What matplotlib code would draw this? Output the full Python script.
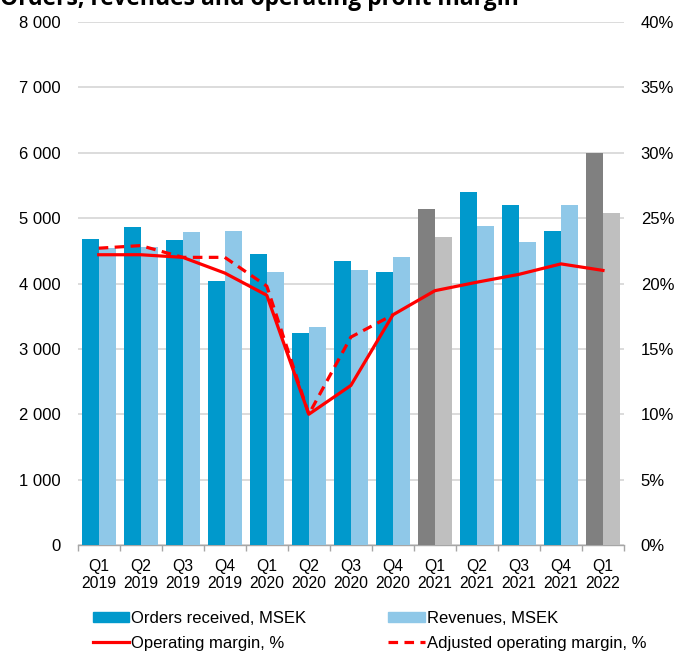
import numpy as np
import matplotlib.pyplot as plt
from matplotlib.ticker import FuncFormatter, FixedLocator
from matplotlib.patches import Patch
from matplotlib.lines import Line2D

plt.rcParams['font.family'] = ['Liberation Sans', 'DejaVu Sans']

# Data
quarters = ['Q1\n2019', 'Q2\n2019', 'Q3\n2019', 'Q4\n2019', 'Q1\n2020', 'Q2\n2020',
            'Q3\n2020', 'Q4\n2020', 'Q1\n2021', 'Q2\n2021', 'Q3\n2021', 'Q4\n2021',
            'Q1\n2022']
orders = [4680, 4865, 4665, 4045, 4445, 3240, 4345, 4175, 5145, 5400, 5200, 4800, 6000]
revenues = [4550, 4555, 4785, 4805, 4175, 3340, 4205, 4410, 4710, 4880, 4630, 5200, 5080]
op_margin = [22.2, 22.2, 22.0, 20.8, 19.1, 10.0, 12.2, 17.6, 19.45, 20.1, 20.7, 21.5, 21.0]
adj_margin = [22.7, 22.9, 22.0, 22.0, 19.8, 10.0, 15.9, 17.6]
highlight = ['Q1\n2021', 'Q1\n2022']

c_orders = '#0099CC'
c_rev = '#8FC8E8'
c_orders_g = '#808080'
c_rev_g = '#BFBFBF'
c_red = '#FF0000'

fig = plt.figure(figsize=(6.78, 6.51), dpi=100)
ax = fig.add_axes([77.7 / 678, 1 - 545 / 651, (624 - 77.7) / 678, (545 - 22) / 651])
ax2 = ax.twinx()

x = np.arange(len(quarters))
w = 0.4
col_o = [c_orders_g if q in highlight else c_orders for q in quarters]
col_r = [c_rev_g if q in highlight else c_rev for q in quarters]
ax.bar(x - w / 2, orders, w, color=col_o, zorder=3)
ax.bar(x + w / 2, revenues, w, color=col_r, zorder=3)

ax.set_ylim(0, 8000)
ax.set_xlim(-0.5, len(quarters) - 0.5)
ax.set_yticks(np.arange(0, 8001, 1000))
ax.yaxis.set_major_formatter(FuncFormatter(lambda v, p: f'{int(v):,}'.replace(',', ' ')))
ax.grid(axis='y', color='#D9D9D9', linewidth=1.3, zorder=0)
ax.set_axisbelow(True)

ax.set_xticks(x)
ax.set_xticklabels(quarters, fontsize=11.3, linespacing=1.15)
ax.xaxis.set_minor_locator(FixedLocator(np.arange(-0.5, len(quarters), 1)))
ax.tick_params(axis='x', which='major', length=0, pad=10)
ax.tick_params(axis='x', which='minor', length=4, color='#A6A6A6', width=1)
ax.tick_params(axis='y', length=0, labelsize=12, pad=12)

for s in ['top', 'right', 'left']:
    ax.spines[s].set_visible(False)
ax.spines['bottom'].set_color('#A6A6A6')
ax.spines['bottom'].set_linewidth(1)

ax2.plot(x, op_margin, color=c_red, linewidth=2.3, zorder=4)
ax2.plot(x[:len(adj_margin)], adj_margin, color=c_red, linewidth=2.3,
         linestyle=(0, (3, 2)), zorder=4)
ax2.set_ylim(0, 40)
ax2.set_yticks(np.arange(0, 41, 5))
ax2.yaxis.set_major_formatter(FuncFormatter(lambda v, p: f'{int(v)}%'))
ax2.tick_params(axis='y', length=0, labelsize=12, pad=12)
for s in ['top', 'right', 'left', 'bottom']:
    ax2.spines[s].set_visible(False)

# title is partly cut off at the top, like in the reference
fig.text(0.0, 1 - 5 / 651, 'Orders, revenues and operating profit margin',
         fontsize=16.5, fontweight='bold', family='Open Sans', va='baseline', ha='left')

handles = [
    Patch(color=c_orders, label='Orders received, MSEK'),
    Line2D([], [], color=c_red, linewidth=2.3, label='Operating margin, %'),
    Patch(color=c_rev, label='Revenues, MSEK'),
    Line2D([], [], color=c_red, linewidth=2.3, linestyle=(0, (3, 2)),
           label='Adjusted operating margin, %'),
]
fig.legend(handles=handles, ncol=2, loc='upper left', bbox_to_anchor=(86 / 678, 1 - 604 / 651),
           frameon=False, fontsize=12, handlelength=2.2, handleheight=0.5,
           handletextpad=0.12, columnspacing=4.9, labelspacing=0.6, borderaxespad=0)

fig.savefig('out.png', dpi=100)
